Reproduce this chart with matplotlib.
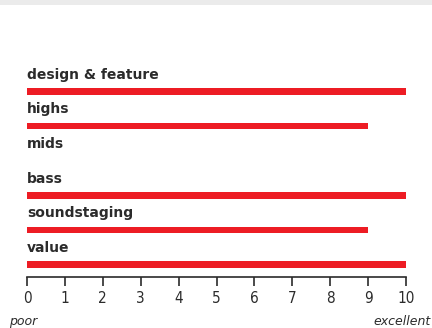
import matplotlib
matplotlib.use("Agg")
import matplotlib.pyplot as plt
from matplotlib.patches import Rectangle

categories = ["design & feature", "highs", "mids", "bass", "soundstaging", "value"]
scores = [10, 9, 0, 10, 9, 10]
ticks = list(range(0, 11))
low_label = "poor"
high_label = "excellent"

red = "#ed1c24"
ink = "#2b2b2b"

W, H = 432, 328
fig = plt.figure(figsize=(W / 100, H / 100), dpi=100)
fig.patch.set_facecolor("white")

# light grey strip across the top
fig.patches.append(Rectangle((0, 1 - 5 / H), 1, 5 / H, transform=fig.transFigure,
                             facecolor="#ebebeb", edgecolor="none"))

ax = fig.add_axes([27 / W, 1 - 277 / H, (406 - 27) / W, (277 - 60) / H])

n = len(categories)
ypos = [n - 1 - i for i in range(n)]
ax.barh(ypos, scores, height=0.19, color=red, left=0)

for y, name in zip(ypos, categories):
    ax.text(0, y + 0.37, name, fontsize=10, fontweight="bold", color=ink,
            ha="left", va="baseline", family="DejaVu Sans")

ax.set_xlim(0, 10)
ax.set_ylim(-0.358, 5.913)
ax.set_xticks(ticks)
ax.set_xticklabels([str(t) for t in ticks], family="DejaVu Sans",
                   fontstretch="condensed", fontsize=11, color=ink)
ax.set_yticks([])
for s in ["top", "right", "left"]:
    ax.spines[s].set_visible(False)
ax.spines["bottom"].set_color(ink)
ax.spines["bottom"].set_linewidth(1.2)
ax.spines["bottom"].set_capstyle("projecting")
ax.tick_params(axis="x", direction="out", length=6.5, width=1.2, color=ink, pad=3.5)

fig.text(9 / W, 1 - 325 / H, low_label, fontsize=9, style="italic", color=ink,
         ha="left", va="baseline")
fig.text(431 / W, 1 - 325 / H, high_label, fontsize=9, style="italic", color=ink,
         ha="right", va="baseline")

fig.savefig("out.png", dpi=100, facecolor="white")
